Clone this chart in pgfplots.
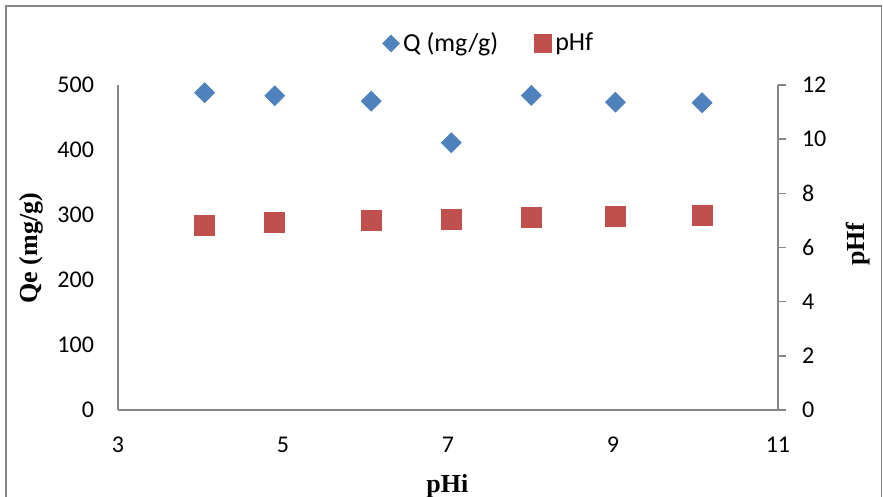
\documentclass[border=0pt]{standalone}
\usepackage{pgfplots}
\pgfplotsset{compat=1.18}
\usepackage{fontspec}
\setmainfont{Carlito}
\newfontfamily\titlefont{Liberation Serif}
\definecolor{qblue}{HTML}{4F81BD}
\definecolor{pred}{HTML}{C0504D}
\definecolor{axgray}{HTML}{868686}
\begin{document}
\begin{tikzpicture}
\useasboundingbox (-59pt,-43.5pt) rectangle (382.5pt,205pt);
\draw[axgray, line width=0.9pt] (-56pt,-60pt) rectangle (381.75pt,202pt);
\begin{axis}[
  at={(0pt,0pt)}, anchor=south west,
  scale only axis, width=330pt, height=162.5pt,
  xmin=3, xmax=11, ymin=0, ymax=500,
  xtick={3,5,7,9,11}, ytick={0,100,...,500},
  axis x line*=bottom, axis y line*=left,
  axis line style={axgray, line width=0.75pt, -},
  major tick length=0pt, tick style={draw=none},
  /pgf/number format/assume math mode=true,
  ticklabel style={font=\fontsize{12}{14}\selectfont},
  xticklabel style={yshift=-10pt},
  yticklabel style={xshift=-8.5pt},
  xlabel={pHi}, ylabel={Qe (mg/g)},
  label style={font=\titlefont\bfseries\fontsize{13}{15}\selectfont},
  xlabel style={at={(axis description cs:0.499,-0.234)}, anchor=center},
  ylabel style={at={(axis description cs:-0.131,0.498)}, anchor=center},
  legend style={at={(axis description cs:0.5636,1.1277)}, anchor=center, draw=none,
    font=\fontsize{13}{15}\selectfont, legend columns=2,
    /tikz/every even column/.append style={column sep=16pt}},
  legend image code/.code={\draw[mark repeat=2,mark phase=2,#1] plot coordinates {(0cm,0cm) (0.2cm,0cm) (0.4cm,0cm)};},
]
\addplot[only marks, mark=square*, mark size=3.5pt, mark options={rotate=45, fill=qblue, draw=qblue}, forget plot]
  coordinates {(4.05,488.2) (4.90,483.5) (6.07,475.1) (7.04,411.2) (8.01,484.0) (9.03,473.5) (10.08,472.6)};
\addlegendimage{only marks, mark=square*, mark size=2.9pt, mark options={rotate=45, fill=qblue, draw=qblue}}
\addlegendentry{Q (mg/g)}
\addlegendimage{only marks, mark=square*, mark size=4.3pt, mark options={fill=pred, draw=pred}}
\addlegendentry{pHf}
\end{axis}
\begin{axis}[
  at={(0pt,0pt)}, anchor=south west,
  scale only axis, width=330pt, height=162.5pt,
  xmin=3, xmax=11, ymin=0, ymax=12,
  ytick={0,2,...,12},
  axis x line=none, axis y line*=right,
  axis line style={axgray, line width=0.75pt, -},
  tick style={axgray, line width=0.75pt}, tick align=outside, major tick length=4pt,
  /pgf/number format/assume math mode=true,
  ticklabel style={font=\fontsize{12}{14}\selectfont},
  yticklabel style={xshift=4.5pt},
  ylabel={pHf},
  label style={font=\titlefont\bfseries\fontsize{13}{15}\selectfont},
  ylabel style={at={(axis description cs:1.121,0.51)}, anchor=center},
]
\addplot[only marks, mark=square*, mark size=5pt, mark options={fill=pred, draw=pred}]
  coordinates {(4.05,6.83) (4.90,6.91) (6.07,6.99) (7.04,7.04) (8.01,7.10) (9.03,7.16) (10.08,7.20)};
\end{axis}
\end{tikzpicture}
\end{document}
